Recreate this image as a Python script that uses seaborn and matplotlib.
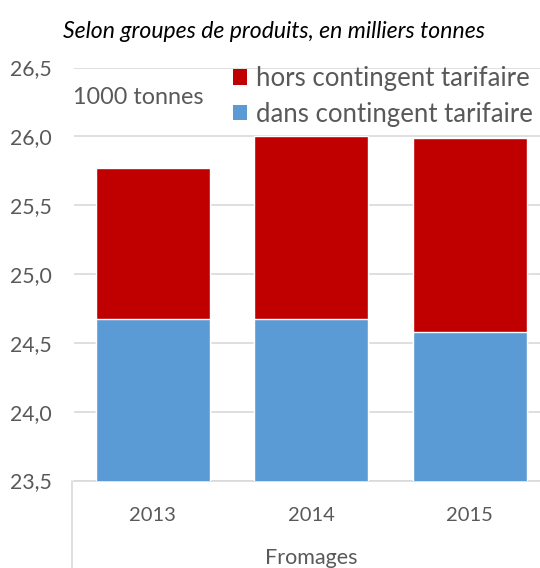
import matplotlib
matplotlib.use("Agg")
import matplotlib.pyplot as plt
import seaborn as sns
import pandas as pd
from matplotlib.lines import Line2D
from matplotlib.patches import Patch

years = ["2013", "2014", "2015"]
dans_contingent = [24.67, 24.67, 24.58]
hors_contingent = [1.10, 1.33, 1.41]
yticks = [23.5, 24.0, 24.5, 25.0, 25.5, 26.0, 26.5]
ytick_labels = ["23,5", "24,0", "24,5", "25,0", "25,5", "26,0", "26,5"]

RED = "#C00000"
BLUE = "#5B9BD5"
GREY = "#595959"

sns.set_theme(style="white")
plt.rcParams["font.family"] = ["Lato", "DejaVu Sans"]

df = pd.DataFrame({
    "year": years,
    "dans": dans_contingent,
    "total": [d + h for d, h in zip(dans_contingent, hors_contingent)],
})

fig = plt.figure(figsize=(5.4, 5.68), dpi=100)
ax = fig.add_axes([0.1365, 0.154, 0.880, 0.727])

sns.barplot(data=df, x="year", y="total", color=RED, width=0.72, saturation=1, ax=ax, zorder=2)
sns.barplot(data=df, x="year", y="dans", color=BLUE, width=0.72, saturation=1, ax=ax, zorder=3)

ax.set_ylim(23.5, 26.5)
ax.set_yticks(yticks)
ax.set_yticklabels(ytick_labels)
ax.yaxis.grid(True, color="#D9D9D9", linewidth=1.2, zorder=0)
ax.set_axisbelow(True)
for s in ["top", "right", "left"]:
    ax.spines[s].set_visible(False)
ax.spines["bottom"].set_color("#D9D9D9")
ax.spines["bottom"].set_linewidth(1.2)
ax.tick_params(axis="y", length=0, pad=16, labelsize=15.3, labelcolor=GREY)
ax.tick_params(axis="x", length=0, pad=19, labelsize=14.5, labelcolor=GREY)
ax.set_xlabel("Fromages", fontsize=15.5, color=GREY, labelpad=17)
ax.set_ylabel("")

# category grouping line below the axis
fig.add_artist(Line2D([0.1335, 0.1335], [0.0, 0.154], color="#D9D9D9", linewidth=1.2))

fig.text(0.117, 0.945, "Selon groupes de produits, en milliers tonnes",
         fontsize=16.6, style="italic", color="black", va="center", ha="left")
fig.text(0.135, 0.828, "1000 tonnes", fontsize=16.8, color=GREY, va="center", ha="left")

handles = [Patch(facecolor=RED, edgecolor="none"), Patch(facecolor=BLUE, edgecolor="none")]
leg = fig.legend(handles, ["hors contingent tarifaire", "dans contingent tarifaire"],
                 loc="upper left", bbox_to_anchor=(0.432, 0.884), frameon=False,
                 fontsize=18.5, handlelength=0.55, handleheight=0.55, handletextpad=0.35,
                 labelspacing=0.42, borderaxespad=0, borderpad=0)
for t in leg.get_texts():
    t.set_color(GREY)

fig.savefig("out.png", dpi=100)
